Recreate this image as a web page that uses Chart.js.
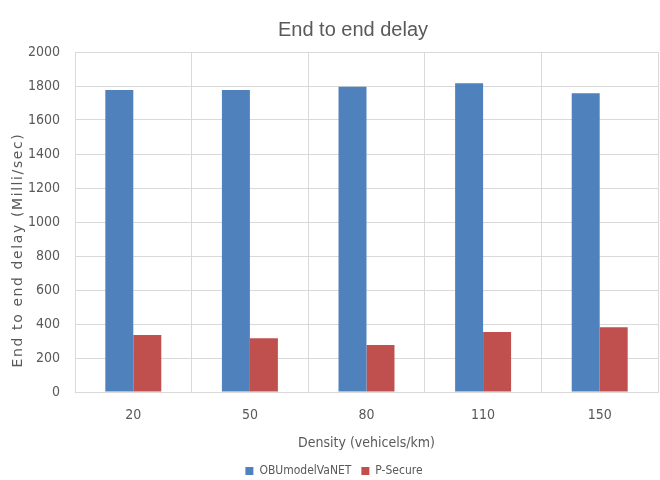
<!DOCTYPE html>
<html><head><meta charset="utf-8">
<script src="https://cdn.jsdelivr.net/npm/chart.js@4/dist/chart.umd.min.js"></script>
<style>html,body{margin:0;padding:0;background:#fff}#wrap{width:660px;height:480px}</style>
</head><body><div id="wrap"><canvas id="c" width="660" height="480"></canvas></div>
<script>
const categories = ['20','50','80','110','150'];
const obuValues = [1776, 1776, 1796, 1816, 1757];
const psecureValues = [335, 316, 276, 353, 381];
const yTicks = [0,200,400,600,800,1000,1200,1400,1600,1800,2000];
const chartTitle = 'End to end delay';
const yTitle = 'End to end delay (Milli/sec)';
const narrow = "'Liberation Sans Narrow','DejaVu Sans Condensed',sans-serif";
const textPlugin = {
  id: 'textPlugin',
  afterDraw(chart) {
    const ctx = chart.ctx, a = chart.chartArea;
    ctx.save();
    ctx.fillStyle = '#595959';
    ctx.textAlign = 'center';
    ctx.textBaseline = 'middle';
    ctx.font = "20px 'Liberation Sans Narrow', sans-serif";
    ctx.fillText(chartTitle, 353, 30);
    ctx.translate(18, (a.top + a.bottom) / 2 + 28);
    ctx.rotate(-Math.PI / 2);
    ctx.letterSpacing = '1.6px';
    ctx.font = "14px 'DejaVu Sans', sans-serif";
    ctx.fillText(yTitle, 0, 0);
    ctx.restore();
  }
};
new Chart(document.getElementById('c'), {
  type: 'bar',
  data: {
    labels: categories,
    datasets: [
      {label: 'OBUmodelVaNET', data: obuValues, backgroundColor: '#4f81bd', borderWidth: 0},
      {label: 'P-Secure', data: psecureValues, backgroundColor: '#c0504d', borderWidth: 0}
    ]
  },
  plugins: [textPlugin],
  options: {
    responsive: false, animation: false,
    layout: {padding: {left: 10, right: 2, top: 52, bottom: -7}},
    categoryPercentage: 0.48, barPercentage: 1,
    plugins: {
      title: {display: false},
      legend: {position: 'bottom', labels: {boxWidth: 8, boxHeight: 8, color: '#595959',
        font: {family: narrow, size: 12}, padding: 10}},
      tooltip: {enabled: false}
    },
    scales: {
      x: {
        grid: {color: '#d9d9d9', offset: true, drawTicks: false, lineWidth: 1},
        border: {color: '#d9d9d9'},
        ticks: {color: '#595959', font: {family: narrow, size: 14}, padding: 15},
        title: {display: true, text: 'Density (vehicels/km)', color: '#595959',
          font: {family: narrow, size: 14}, padding: {top: 0, bottom: 3}},
        afterFit: s => { s.height = 63; }
      },
      y: {
        min: 0, max: 2000,
        afterBuildTicks: a => { a.ticks = yTicks.map(v => ({value: v})); },
        grid: {color: '#d9d9d9', drawTicks: false, lineWidth: 1},
        border: {display: false},
        ticks: {color: '#595959', font: {family: narrow, size: 14}, padding: 15,
          callback: v => String(v)},
        afterFit: s => { s.width = 65; }
      }
    }
  }
});
</script></body></html>
